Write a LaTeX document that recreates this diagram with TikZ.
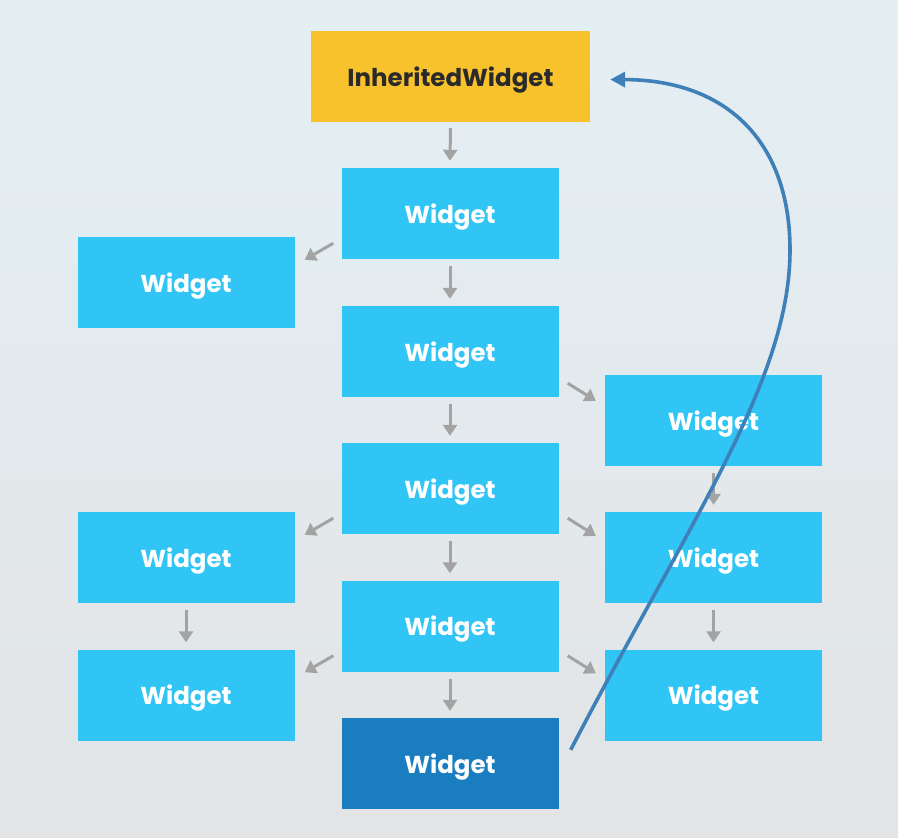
\documentclass[tikz,border=0pt]{standalone}
\usepackage{fontspec}
\setmainfont{Poppins}
\usetikzlibrary{arrows.meta,calc}
\definecolor{bgtop}{HTML}{E4EFF4}
\definecolor{bgbot}{HTML}{E2E4E5}
\definecolor{wblue}{HTML}{31C5F5}
\definecolor{wdark}{HTML}{1A7DBF}
\definecolor{wyellow}{HTML}{F8C22D}
\definecolor{ink}{HTML}{2A2A2A}
\definecolor{garrow}{HTML}{A3A3A3}
\definecolor{curveblue}{HTML}{3E80B7}
\tikzset{
  wbox/.style={rectangle, fill=wblue, minimum width=217pt, minimum height=91pt, inner sep=0pt,
    text depth=0pt, text=white, font=\fontsize{24.5}{28}\selectfont\bfseries},
  wdarkbox/.style={wbox, fill=wdark},
  ihbox/.style={rectangle, fill=wyellow, minimum width=279pt, minimum height=91pt, inner sep=0pt,
    text depth=0pt, text=ink, font=\fontsize{24.5}{28}\selectfont\bfseries},
  garr/.style={draw=garrow, line width=3pt, -{Triangle[length=11pt,width=14pt]}},
  barr/.style={draw=curveblue, line width=3.6pt, -{Triangle[length=15pt,width=15pt]}}
}
\begin{document}
\begin{tikzpicture}[x=1pt,y=-1pt]
\useasboundingbox (0,0) rectangle (898,838);
\shade[top color=bgtop, bottom color=bgbot] (0,0) rectangle (898,838);
% nodes
\node[ihbox] (ih) at (450.5,76.5) {InheritedWidget};
\node[wbox] (c1) at (450,213.5) {Widget};
\node[wbox] (c2) at (450,351.5) {Widget};
\node[wbox] (c3) at (450,488.5) {Widget};
\node[wbox] (c4) at (450,626) {Widget};
\node[wdarkbox] (c5) at (450,763.5) {Widget};
\node[wbox] (l1) at (186,282.5) {Widget};
\node[wbox] (l2) at (186,557.5) {Widget};
\node[wbox] (l3) at (186,695) {Widget};
\node[wbox] (r1) at (713.5,420.5) {Widget};
\node[wbox] (r2) at (713.5,557.5) {Widget};
\node[wbox] (r3) at (713.5,695) {Widget};
% gray arrows
\draw[garr] ($(ih.south)+(0,6)$) -- ($(c1.north)+(0,-7)$);
\draw[garr] ($(c1.south)+(0,7)$) -- ($(c2.north)+(0,-7)$);
\draw[garr] ($(c2.south)+(0,7)$) -- ($(c3.north)+(0,-7)$);
\draw[garr] ($(c3.south)+(0,7)$) -- ($(c4.north)+(0,-7)$);
\draw[garr] ($(c4.south)+(0,7)$) -- ($(c5.north)+(0,-7)$);
\draw[garr] ($(r1.south)+(0,7)$) -- ($(r2.north)+(0,-7)$);
\draw[garr] ($(r2.south)+(0,7)$) -- ($(r3.north)+(0,-7)$);
\draw[garr] ($(l2.south)+(0,7)$) -- ($(l3.north)+(0,-7)$);
\draw[garr] ($(c1.south west)+(-8,-16)$) -- ($(l1.north east)+(10,23)$);
\draw[garr] ($(c2.south east)+(9,-14)$) -- ($(r1.north west)+(-9,26)$);
\draw[garr] ($(c3.south west)+(-8,-16)$) -- ($(l2.north east)+(10,23)$);
\draw[garr] ($(c3.south east)+(9,-16)$) -- ($(r2.north west)+(-9,24)$);
\draw[garr] ($(c4.south west)+(-8,-16)$) -- ($(l3.north east)+(10,23)$);
\draw[garr] ($(c4.south east)+(9,-16)$) -- ($(r3.north west)+(-9,24)$);
% blue feedback curve
\coordinate (cs) at ($(c5.north east)+(12,32)$);
\coordinate (ce) at ($(ih.east)+(20,3)$);
\draw[barr] (cs) .. controls (690,520) and (790,380) .. (790,250)
  .. controls (790,145) and (730,80) .. (ce);
\end{tikzpicture}
\end{document}
